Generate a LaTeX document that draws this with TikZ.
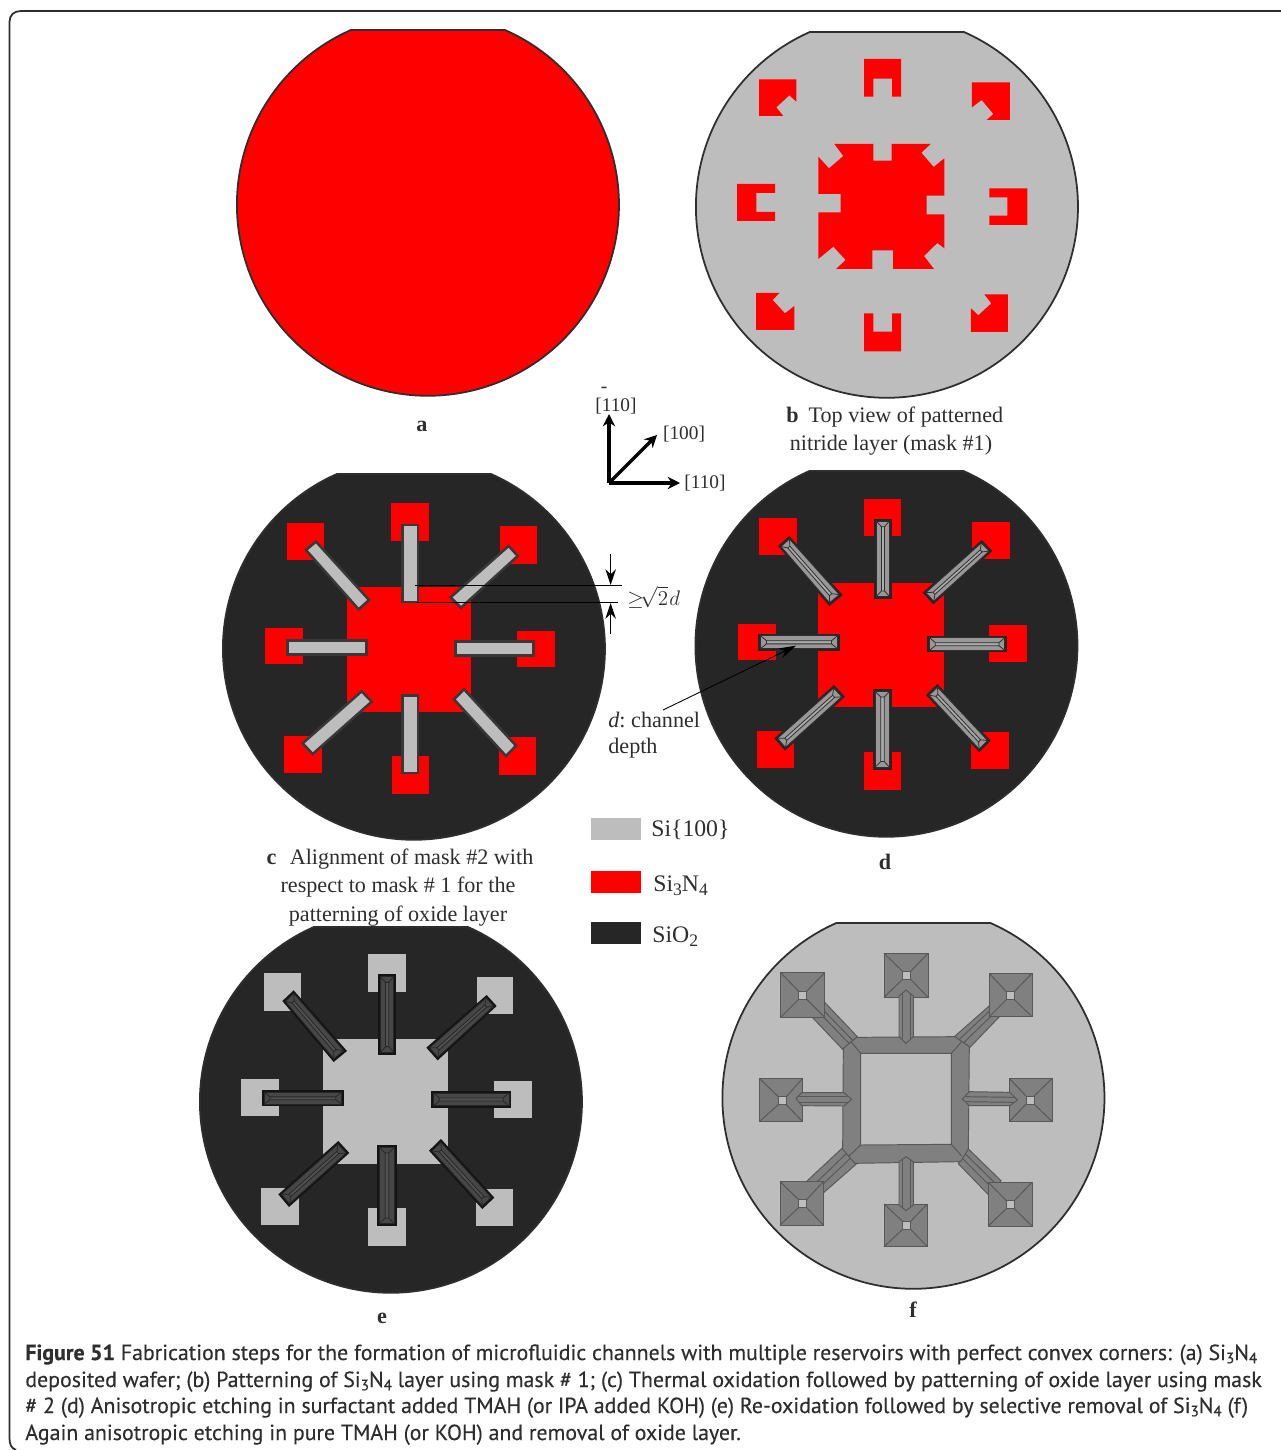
\documentclass[tikz,border=0pt]{standalone}
\usepackage{fontspec}
\usepackage{amsmath}
\usetikzlibrary{calc,arrows.meta}
\setmainfont{Liberation Serif}
\newfontfamily\capfont[FakeBold=0.25]{PT Sans}
\definecolor{nitride}{HTML}{FF0000}
\definecolor{silicon}{HTML}{BDBDBD}
\definecolor{oxide}{HTML}{262626}
\definecolor{ink}{HTML}{2E2E2E}
\definecolor{etch}{HTML}{808080}
\definecolor{chanin}{HTML}{989898}
\definecolor{chanstrip}{HTML}{ABABAB}
\tikzset{
  x=0.02cm,y=-0.02cm,
  zm/.style 2 args={shift={(#1,#2)},x=0.0066667cm,y=-0.0066667cm},
  waferedge/.style={draw=ink,line width=1pt},
  lbl/.style={inner sep=0,text=ink,font=\fontsize{12.6}{14}\selectfont},
  boldlbl/.style={inner sep=0,text=ink,font=\bfseries\fontsize{12.6}{14}\selectfont},
  leglbl/.style={inner sep=0,anchor=base west,text=ink,font=\fontsize{13.5}{15}\selectfont},
  axlbl/.style={inner sep=0,text=ink,font=\fontsize{11}{13}\selectfont},
  caplbl/.style={inner sep=0,anchor=base west,text=ink,font=\capfont\fontsize{12.45}{14}\selectfont},
  axisline/.style={line width=2pt,black,-{Stealth[length=7pt,width=7pt]}},
  thinline/.style={line width=0.5pt,black},
  pit/.style={fill=etch,draw=ink!80,line width=0.55pt},
  ridge/.style={draw=ink!80,line width=0.55pt},
  grayedge/.style={fill=silicon,draw=ink!95,line width=1.4pt},
}
\newcommand{\wafer}[3]{\filldraw[waferedge,fill=#3] (#1-77,#2-175) -- (#1+77,#2-175) arc[start angle=-66.2,end angle=246.2,radius=191] -- cycle;}
\newcommand{\sq}[5]{\fill[#5] (#1,#2) rectangle (#3,#4);}
\newcommand{\chpt}[2]{($($(cA)!#1!(cD)$)!#2!($(cB)!#1!(cC)$)$)}
% corners A B C D, outer colour, inner colour, strip colour, line colour
\newcommand{\chan}[8]{%
  \coordinate (cA) at (#1); \coordinate (cB) at (#2); \coordinate (cC) at (#3); \coordinate (cD) at (#4);
  \fill[#5] (cA) -- (cB) -- (cC) -- (cD) -- cycle;
  \fill[#6] \chpt{0.03}{0.13} -- \chpt{0.03}{0.87} -- \chpt{0.97}{0.87} -- \chpt{0.97}{0.13} -- cycle;
  \fill[#7] \chpt{0.10}{0.42} -- \chpt{0.10}{0.60} -- \chpt{0.90}{0.60} -- \chpt{0.90}{0.42} -- cycle;
  \draw[#8,line width=0.45pt] \chpt{0.03}{0.13} -- \chpt{0.03}{0.87} -- \chpt{0.97}{0.87} -- \chpt{0.97}{0.13} -- cycle;
  \draw[#8,line width=0.45pt] \chpt{0.03}{0.13} -- \chpt{0.10}{0.42} -- \chpt{0.90}{0.42} -- \chpt{0.97}{0.13}
     \chpt{0.03}{0.87} -- \chpt{0.10}{0.60} -- \chpt{0.90}{0.60} -- \chpt{0.97}{0.87}
     \chpt{0.10}{0.42} -- \chpt{0.10}{0.60} \chpt{0.90}{0.42} -- \chpt{0.90}{0.60};
}
\newcommand{\resv}[6]{%
  \filldraw[pit] (#1,#2) rectangle (#3,#4);
  \draw[ridge] (#1,#2) -- (#5-12,#6-12) (#3,#2) -- (#5+12,#6-12) (#3,#4) -- (#5+12,#6+12) (#1,#4) -- (#5-12,#6+12);
  \filldraw[ridge,fill=silicon] (#5-12,#6-12) rectangle (#5+12,#6+12);
}
\newcommand{\dn}[1]{\raisebox{-0.3ex}{\fontsize{8.6}{8.6}\selectfont #1}}
\newcommand{\dnl}[1]{\raisebox{-0.4ex}{\fontsize{10}{10}\selectfont #1}}
\begin{document}
\begin{tikzpicture}
\useasboundingbox (0,0) rectangle (1281,1450);
\fill[white] (0,0) rectangle (1281,1450);
% frame
\draw[ink,line width=1pt] (1281,11) -- (21,11) .. controls (14,11) and (9.5,15) .. (9.5,22) -- (9.5,1438) .. controls (9.5,1444) and (11,1448) .. (16,1450);

% ---- a
\wafer{428}{205}{nitride}
\node[boldlbl] (la) at (422,426) {a};

% ---- b
\wafer{887}{207}{silicon}
\begin{scope}[zm={690}{20}]
\fill[nitride] (207,178)--(319,178)--(319,245)--(298,226)--(259,262)--(280,288)--(207,288)--cycle;
\fill[nitride] (522,117)--(633,117)--(633,230)--(606,230)--(606,176)--(550,176)--(550,230)--(522,230)--cycle;
\fill[nitride] (846,187)--(960,187)--(960,300)--(890,300)--(910,282)--(875,240)--(846,262)--cycle;
\fill[nitride] (141,492)--(255,492)--(255,519)--(199,519)--(199,576)--(255,576)--(255,603)--(141,603)--cycle;
\fill[nitride] (898,505)--(1012,505)--(1012,615)--(898,615)--(898,587)--(952,587)--(952,532)--(898,532)--cycle;
\fill[nitride] (198,819)--(268,819)--(248,840)--(285,880)--(313,858)--(313,930)--(198,930)--cycle;
\fill[nitride] (883,823)--(954,823)--(954,936)--(843,936)--(843,865)--(865,886)--(904,850)--cycle;
\fill[nitride] (522,880)--(550,880)--(550,935)--(606,935)--(606,880)--(633,880)--(633,994)--(522,994)--cycle;
\fill[nitride] (433,372)--(550,372)--(550,422)--(605,422)--(605,372)--(722,372)--(694,398)--(731,441)--(763,415)--(763,527)--(710,527)--(710,583)--(763,583)--(763,685)--(742,669)--(702,708)--(732,747)--(609,747)--(609,691)--(547,691)--(547,747)--(438,747)--(467,720)--(430,680)--(385,717)--(385,577)--(452,577)--(452,522)--(385,522)--(385,410)--(417,445)--(460,408)--cycle;
\end{scope}
\node[lbl,anchor=base west] (lb1) at (786,422) {\textbf{b}\hspace{0.45em}Top view of patterned};
\node[lbl,anchor=base] (lb2) at (891,450) {nitride layer (mask \#1)};

% ---- axes
\coordinate (axo) at (609,483);
\coordinate (axu) at (609,414);
\coordinate (axr) at (680,483);
\coordinate (axd) at (657,435);
\draw[axisline] (axo) -- (axu);
\draw[axisline] (axo) -- (axr);
\draw[axisline] (axo) -- (axd);
\node[axlbl] (ax1) at (616,406) {[110]};
\node[axlbl,anchor=base] (ax1bar) at (604,392) {-};
\node[axlbl] (ax2) at (684,434) {[100]};
\node[axlbl] (ax3) at (705,483) {[110]};

% ---- c
\wafer{414}{649}{oxide}
\begin{scope}[zm={220}{470}]
\sq{380}{352}{752}{727}{nitride}
\sq{513}{98}{627}{212}{nitride}
\sq{201}{159}{312}{269}{nitride}
\sq{840}{168}{950}{281}{nitride}
\sq{134}{473}{248}{582}{nitride}
\sq{890}{482}{1004}{592}{nitride}
\sq{192}{797}{306}{908}{nitride}
\sq{836}{801}{947}{914}{nitride}
\sq{516}{858}{627}{972}{nitride}
\filldraw[grayedge] (548,165) rectangle (594,396);
\filldraw[grayedge] (203,511) rectangle (439,554);
\filldraw[grayedge] (706,514) rectangle (940,557);
\filldraw[grayedge] (547,677) rectangle (594,909);
\filldraw[grayedge] (288,215)--(258,240)--(416,418)--(447,390)--cycle;
\filldraw[grayedge] (866,228)--(893,258)--(723,413)--(692,382)--cycle;
\filldraw[grayedge] (425,664)--(455,695)--(278,852)--(248,820)--cycle;
\filldraw[grayedge] (732,658)--(702,688)--(858,858)--(888,827)--cycle;
\coordinate (dA1) at (585,347); \coordinate (dA2) at (1205,347);
\coordinate (dB1) at (590,397); \coordinate (dB2) at (1195,397);
\coordinate (dC1) at (1172,252); \coordinate (dC2) at (1172,345);
\coordinate (dD1) at (1172,492); \coordinate (dD2) at (1172,399);
\draw[thinline] (dA1) -- (dA2);
\draw[thinline] (dB1) -- (dB2);
\draw[thinline,-{Stealth[length=9pt,width=6pt]}] (dC1) -- (dC2);
\draw[thinline,-{Stealth[length=9pt,width=6pt]}] (dD1) -- (dD2);
\end{scope}
\node[lbl,anchor=west] (ldim) at (627,597) {${\geq}\!\sqrt{2}\mkern1mu d$};
\node[lbl,anchor=base] (lc1) at (400,864) {\textbf{c}\hspace{0.6em}Alignment of mask \#2 with};
\node[lbl,anchor=base] (lc2) at (398,892) {respect to mask \# 1 for the};
\node[lbl,anchor=base] (lc3) at (398,921) {patterning of oxide layer};

% ---- d
\wafer{886.5}{646}{oxide}
\begin{scope}[zm={690}{470}]
\sq{385}{340}{763}{711}{nitride}
\sq{522}{86}{633}{198}{nitride}
\sq{208}{144}{321}{256}{nitride}
\sq{846}{155}{960}{266}{nitride}
\sq{144}{461}{258}{570}{nitride}
\sq{898}{466}{1012}{577}{nitride}
\sq{202}{782}{312}{895}{nitride}
\sq{843}{785}{957}{898}{nitride}
\sq{522}{847}{633}{959}{nitride}
\chan{552,146}{605,146}{605,387}{552,387}{oxide}{chanin}{chanstrip}{ink}
\chan{205,491}{205,542}{449,542}{449,491}{oxide}{chanin}{chanstrip}{ink}
\chan{712,497}{712,547}{951,547}{951,497}{oxide}{chanin}{chanstrip}{ink}
\chan{548,657}{606,657}{606,899}{548,899}{oxide}{chanin}{chanstrip}{ink}
\chan{298,198}{264,228}{418,408}{458,375}{oxide}{chanin}{chanstrip}{ink}
\chan{875,210}{907,243}{730,403}{698,368}{oxide}{chanin}{chanstrip}{ink}
\chan{432,645}{465,680}{285,842}{253,805}{oxide}{chanin}{chanstrip}{ink}
\chan{742,642}{708,675}{868,847}{902,812}{oxide}{chanin}{chanstrip}{ink}
\coordinate (arwE) at (318,527);
\end{scope}
\coordinate (arwS) at (663,710);
\draw[thinline,-{Stealth[length=10pt,width=6pt]}] (arwS) -- (arwE);
\node[lbl,anchor=base west] (ld1) at (608,727) {\textit{d}:\hspace{-0.08em} channel};
\node[lbl,anchor=base west] (ld2) at (608,753) {depth};
\node[boldlbl] (ldd) at (885,862) {d};

% ---- legend
\fill[silicon] (591,818) rectangle (641,840);
\fill[nitride] (591,871) rectangle (641,893);
\fill[oxide] (591,922) rectangle (641,944);
\node[leglbl] (lg1) at (651,836) {Si\{100\}};
\node[leglbl] (lg2) at (653,891) {Si\dnl{3}N\dnl{4}};
\node[leglbl] (lg3) at (652,942) {SiO\dnl{2}};

% ---- e
\wafer{391}{1102}{oxide}
\begin{scope}[zm={195}{925}]
\sq{385}{342}{758}{716}{silicon}
\sq{206}{145}{318}{258}{silicon}
\sq{518}{87}{632}{200}{silicon}
\sq{845}{156}{955}{268}{silicon}
\sq{139}{462}{253}{573}{silicon}
\sq{896}{468}{1010}{579}{silicon}
\sq{198}{788}{312}{900}{silicon}
\sq{842}{791}{953}{903}{silicon}
\sq{520}{849}{632}{963}{silicon}
\chan{549,148}{603,148}{603,389}{549,389}{black!92}{black!72}{black!68}{black!85}
\chan{200,495}{200,544}{447,544}{447,495}{black!92}{black!72}{black!68}{black!85}
\chan{709,497}{709,549}{949,549}{949,497}{black!92}{black!72}{black!68}{black!85}
\chan{546,660}{605,660}{605,903}{546,903}{black!92}{black!72}{black!68}{black!85}
\chan{296,196}{262,228}{416,411}{456,378}{black!92}{black!72}{black!68}{black!85}
\chan{875,210}{905,243}{728,406}{694,368}{black!92}{black!72}{black!68}{black!85}
\chan{430,648}{463,684}{282,846}{250,808}{black!92}{black!72}{black!68}{black!85}
\chan{738,642}{702,677}{862,852}{898,818}{black!92}{black!72}{black!68}{black!85}
\end{scope}
\node[boldlbl] (le) at (382,1318) {e};

% ---- f
\wafer{913.5}{1098}{silicon}
\begin{scope}[zm={720}{920}]
% diagonal channels
\filldraw[pit] (315,248)--(412,350)--(368,388)--(275,290)--cycle;
\draw[ridge] (290,270)--(388,371) (300,260)--(398,361);
\filldraw[pit] (812,254)--(703,350)--(748,384)--(845,283)--cycle;
\draw[ridge] (818,264)--(716,360) (829,273)--(728,371);
\filldraw[pit] (262,782)--(366,685)--(408,733)--(304,824)--cycle;
\draw[ridge] (278,798)--(380,700) (290,810)--(392,714);
\filldraw[pit] (745,687)--(843,782)--(806,825)--(715,731)--cycle;
\draw[ridge] (734,700)--(832,796) (724,712)--(820,808);
% ring
\filldraw[pit] (410,352)--(705,350)--(748,380)--(745,687)--(722,725)--(405,730)--(368,688)--(370,385)--cycle;
\filldraw[ridge,fill=silicon] (422,400)--(694,400)--(694,673)--(422,675)--cycle;
\draw[ridge] (393,365)--(422,400) (725,365)--(694,400) (385,710)--(422,675) (725,708)--(694,673);
% reservoirs
\resv{182}{158}{314}{292}{248}{226}
\resv{492}{100}{624}{232}{560}{166}
\resv{808}{160}{936}{290}{871}{227}
\resv{118}{475}{248}{605}{187}{542}
\resv{868}{475}{997}{605}{930}{540}
\resv{180}{785}{310}{915}{248}{851}
\resv{805}{787}{936}{918}{871}{854}
\resv{492}{852}{622}{980}{560}{916}
% straight channels
\filldraw[pit] (537,350)--(537,228)--(558,210)--(580,228)--(580,350)--(558,370)--cycle;
\draw[ridge] (548,222)--(548,358) (570,222)--(570,358);
\filldraw[pit] (537,725)--(558,710)--(580,725)--(580,855)--(558,872)--(537,855)--cycle;
\draw[ridge] (548,720)--(548,862) (570,720)--(570,862);
\filldraw[pit] (228,535)--(245,518)--(372,518)--(395,538)--(372,558)--(245,557)--cycle;
\draw[ridge] (238,530)--(384,530) (238,546)--(384,546);
\filldraw[pit] (727,537)--(748,515)--(870,517)--(892,540)--(870,557)--(748,557)--cycle;
\draw[ridge] (738,530)--(882,532) (738,545)--(882,547);
\end{scope}
\node[boldlbl] (lf) at (913,1310) {f};

% ---- caption
\node[caplbl] (cap1) at (25,1360) {\textbf{Figure 51} Fabrication steps for the formation of microfluidic channels with multiple reservoirs with perfect convex corners: (a) Si\dn{3}N\dn{4}};
\node[caplbl] (cap2) at (25,1387) {deposited wafer; (b) Patterning of Si\dn{3}N\dn{4} layer using mask \# 1; (c) Thermal oxidation followed by patterning of oxide layer using mask};
\node[caplbl] (cap3) at (25,1413) {\# 2 (d) Anisotropic etching in surfactant added TMAH (or IPA added KOH) (e) Re-oxidation followed by selective removal of Si\dn{3}N\dn{4} (f)};
\node[caplbl] (cap4) at (25,1440) {Again anisotropic etching in pure TMAH (or KOH) and removal of oxide layer.};
\end{tikzpicture}
\end{document}
